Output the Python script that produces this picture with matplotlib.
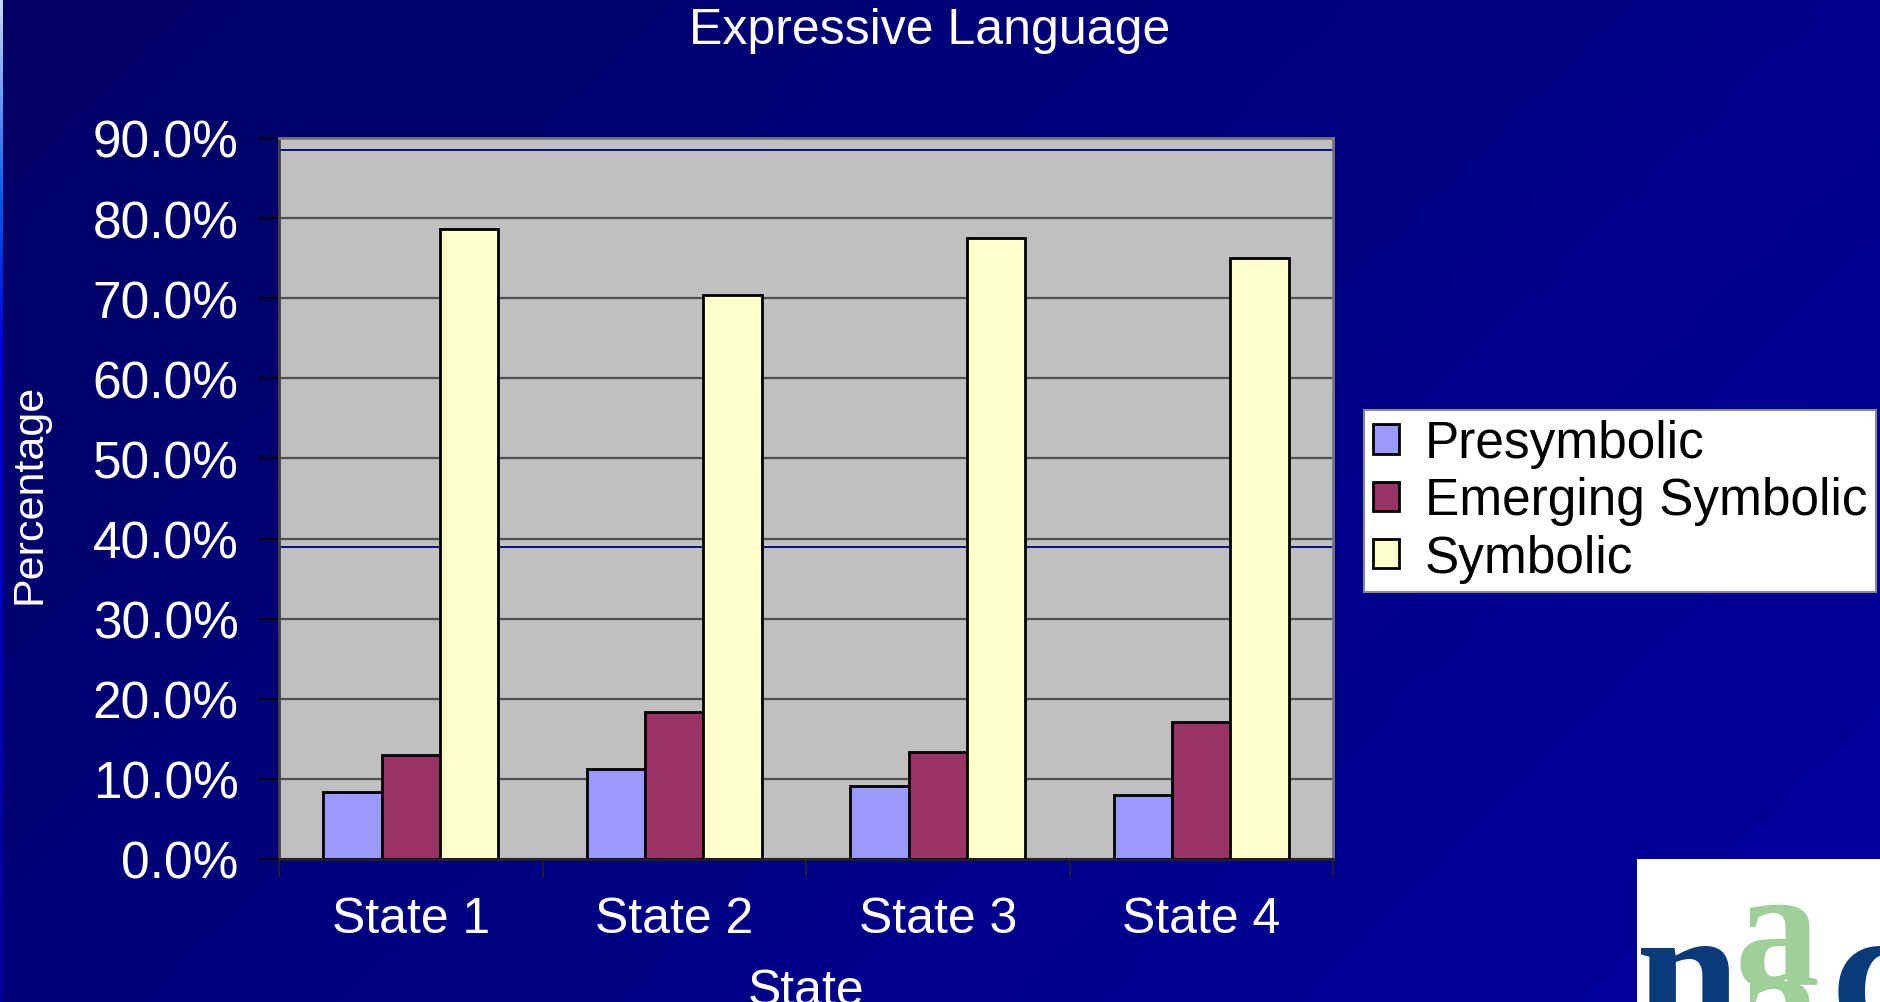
import numpy as np
import matplotlib
matplotlib.use("Agg")
import matplotlib.pyplot as plt
from matplotlib.ticker import FixedLocator, FuncFormatter

# data (percent of children per communication level)
states = ['State 1', 'State 2', 'State 3', 'State 4']
presymbolic = [8.4, 11.2, 9.1, 8.0]
emerging = [13.0, 18.4, 13.3, 17.1]
symbolic = [78.6, 70.4, 77.5, 75.0]
series_names = ['Presymbolic', 'Emerging Symbolic', 'Symbolic']
y_ticks = [0, 10, 20, 30, 40, 50, 60, 70, 80, 90]
navy_rules = [88.5, 39.0]

colors = ['#9999FF', '#993366', '#FFFFCC']
sans = ['Liberation Sans', 'DejaVu Sans']

W, H = 1880, 1003
fig = plt.figure(figsize=(W / 100, H / 100), dpi=100)

# slide background: navy gradient, lighter towards the lower right
bg = fig.add_axes([0, 0, 1, 1], zorder=-10)
gx, gy = np.meshgrid(np.linspace(0, 1, 200), np.linspace(0, 1, 120))
t = 0.65 * gx + 0.35 * gy
img = np.zeros(gx.shape + (3,))
img[..., 2] = (100 + 60 * t) / 255
bg.imshow(img, extent=[0, 1, 0, 1], aspect='auto', origin='upper')
# thin bright stripe on the left edge
sy = np.linspace(0, 1, 200)[:, None]
stripe = np.zeros((200, 1, 3))
stripe[..., 0] = np.clip(0.8 - 4 * sy, 0, 1)
stripe[..., 1] = np.clip(0.85 - 2.5 * sy, 0, 1)
stripe[..., 2] = np.clip(1.0 - 0.4 * sy, 0.6, 1)
bg.imshow(stripe, extent=[0, 3 / W, 0, 1], aspect='auto', origin='upper')
bg.set_xlim(0, 1)
bg.set_ylim(0, 1)
bg.axis('off')

# plot area
left, right, top, bottom = 279, 1333, 139, 860
ax = fig.add_axes([left / W, 1 - bottom / H, (right - left) / W, (bottom - top) / H])
ax.set_facecolor('#C0C0C0')

x = np.arange(len(states))
w = 0.222
for i, vals in enumerate([presymbolic, emerging, symbolic]):
    ax.bar(x + (i - 1) * w, vals, width=w, color=colors[i], edgecolor='black',
           linewidth=2.0, label=series_names[i], zorder=3)

ax.set_xlim(-0.5, len(states) - 0.5)
ax.set_ylim(0, 90)
ax.yaxis.set_major_locator(FixedLocator(y_ticks))
ax.yaxis.set_major_formatter(FuncFormatter(lambda v, p: '%.1f%%' % v))
ax.grid(axis='y', color='#505050', linewidth=1.6, zorder=1)
for r in navy_rules:
    ax.axhline(r, color='#000080', linewidth=1.3, zorder=2)

ax.set_xticks(x)
ax.set_xticklabels(states)
ax.set_xticks(np.arange(-0.5, len(states)), minor=True)
ax.tick_params(axis='x', which='major', length=0, pad=27, labelsize=36, labelcolor='white')
ax.tick_params(axis='x', which='minor', length=14, width=1.2, color='#222222')
ax.tick_params(axis='y', length=15, width=1.5, color='black', pad=14,
               labelsize=37, labelcolor='white')
for lab in ax.get_xticklabels() + ax.get_yticklabels():
    lab.set_family(sans)

for side in ['top', 'right']:
    ax.spines[side].set_color('#777777')
    ax.spines[side].set_linewidth(2)
ax.spines['left'].set_color('#444444')
ax.spines['left'].set_linewidth(2)
ax.spines['bottom'].set_color('#222222')
ax.spines['bottom'].set_linewidth(2)

fig.text(930 / W, 1 - 31 / H, 'Expressive Language', color='white', fontsize=36,
         family=sans, ha='center', va='center')
fig.text(30 / W, 1 - 494 / H, 'Percentage', color='white', fontsize=31,
         family=sans, rotation=90, ha='center', va='center')
fig.text(806 / W, 1 - 992 / H, 'State', color='white', fontsize=36,
         family=sans, ha='center', va='center')

leg = fig.legend(loc='upper left', bbox_to_anchor=(1364 / W, 1 - 411 / H),
                 prop={'family': sans, 'size': 37}, frameon=True, fancybox=False,
                 borderpad=0.18, labelspacing=0.16, handlelength=0.5,
                 handleheight=0.5, handletextpad=0.5, borderaxespad=0)
leg.get_frame().set_facecolor('white')
leg.get_frame().set_edgecolor('#888888')
leg.get_frame().set_linewidth(1.5)
leg.get_frame().set_alpha(1)

# logo block in the lower right corner
logo = fig.add_axes([1637 / W, 0, (W - 1637) / W, (H - 860) / H])
logo.set_xlim(1637, W)
logo.set_ylim(H, 860)
logo.set_facecolor('white')
logo.set_xticks([])
logo.set_yticks([])
for s in logo.spines.values():
    s.set_visible(False)
serif = ['Liberation Serif', 'DejaVu Serif']
logo.text(1636, 1035, 'n', color='#0B3A7A', fontsize=135, family=serif,
          fontweight='bold', va='baseline', ha='left', clip_on=True)
logo.text(1735, 985, 'a', color='#A0D09A', fontsize=122, family=serif,
          fontweight='bold', va='baseline', ha='left', clip_on=True)
logo.text(1735, 1060, 'a', color='#A0D09A', fontsize=122, family=serif,
          fontweight='bold', va='baseline', ha='left', clip_on=True)
logo.text(1832, 1035, 'c', color='#0B3A7A', fontsize=135, family=serif,
          fontweight='bold', va='baseline', ha='left', clip_on=True)

fig.savefig('out.png', dpi=100)
